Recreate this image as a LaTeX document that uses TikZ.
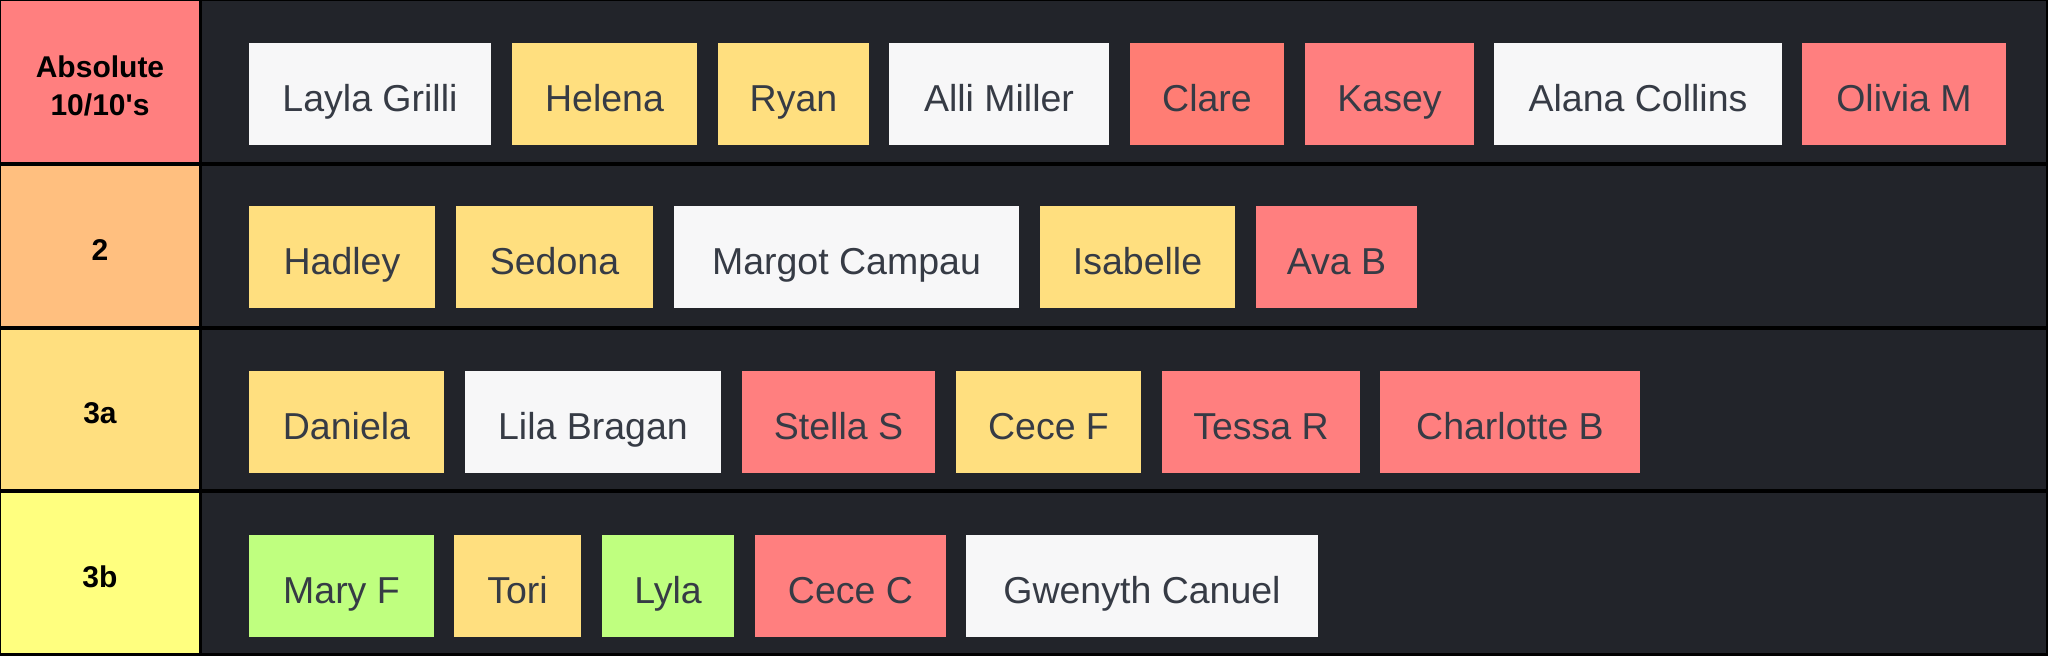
\documentclass[tikz,border=0pt]{standalone}
\usepackage{fontspec}
\setmainfont{Liberation Sans}
\definecolor{tierone}{HTML}{FF7F7F}
\definecolor{tiertwo}{HTML}{FFBF7F}
\definecolor{tierthree}{HTML}{FFDF7F}
\definecolor{tierfour}{HTML}{FFFF7F}
\definecolor{rowbg}{HTML}{22242A}
\definecolor{namegray}{HTML}{363B45}
\definecolor{tilewhite}{HTML}{F7F7F8}
\definecolor{tileyellow}{HTML}{FFDF7F}
\definecolor{tilered}{HTML}{FF7F7F}
\definecolor{tileclare}{HTML}{FF7D74}
\definecolor{tilegreen}{HTML}{BFFF7F}

\begin{document}
\begin{tikzpicture}[x=1pt,y=-1pt,
  tierlabel/.style={inner sep=0pt,minimum width=198pt},
  tiertext/.style={inner sep=0pt,align=center,text=black,yshift=-4pt,font=\bfseries\fontsize{30}{38}\selectfont},
  tile/.style={inner sep=0pt,minimum height=102pt,text=namegray,font=\fontsize{37.5}{40}\selectfont,text height=35pt,text depth=0pt}]
                \useasboundingbox (0,0) rectangle (2048,656);
                \fill [black] (0,0) rectangle (2048,656);
                \fill [rowbg] (202,1) rectangle (2046,162);
                \fill [rowbg] (202,166) rectangle (2046,326);
                \fill [rowbg] (202,330) rectangle (2046,489);
                \fill [rowbg] (202,493) rectangle (2046,653);

                \node[tierlabel,fill=tierone,minimum height=161pt,label={[tiertext]center:{Absolute\\10/10\textquotesingle s}}] (absolute) at (100,81.5) {};
                \node[tierlabel,fill=tiertwo,minimum height=160pt,label={[tiertext]center:2}] (two) at (100,246) {};
                \node[tierlabel,fill=tierthree,minimum height=159pt,label={[tiertext]center:3a}] (threea) at (100,409.5) {};
                \node[tierlabel,fill=tierfour,minimum height=160pt,label={[tiertext]center:3b}] (threeb) at (100,573) {};

                \node[tile,fill=tilewhite,minimum width=242pt] (laylagrilli) at (370,94) {Layla Grilli};
                \node[tile,fill=tileyellow,minimum width=185pt] (helena) at (604.5,94) {Helena};
                \node[tile,fill=tileyellow,minimum width=151pt] (ryan) at (793.5,94) {Ryan};
                \node[tile,fill=tilewhite,minimum width=220pt] (allimiller) at (999,94) {Alli Miller};
                \node[tile,fill=tileclare,minimum width=154pt] (clare) at (1207,94) {Clare};
                \node[tile,fill=tilered,minimum width=169pt] (kasey) at (1389.5,94) {Kasey};
                \node[tile,fill=tilewhite,minimum width=288pt] (alanacollins) at (1638,94) {Alana Collins};
                \node[tile,fill=tilered,minimum width=204pt] (oliviam) at (1904,94) {Olivia M};

                \node[tile,fill=tileyellow,minimum width=186pt] (hadley) at (342,257) {Hadley};
                \node[tile,fill=tileyellow,minimum width=197pt] (sedona) at (554.5,257) {Sedona};
                \node[tile,fill=tilewhite,minimum width=345pt] (margot) at (846.5,257) {Margot Campau};
                \node[tile,fill=tileyellow,minimum width=195pt] (isabelle) at (1137.5,257) {Isabelle};
                \node[tile,fill=tilered,minimum width=161pt] (avab) at (1336.5,257) {Ava B};

                \node[tile,fill=tileyellow,minimum width=195pt] (daniela) at (346.5,421.5) {Daniela};
                \node[tile,fill=tilewhite,minimum width=256pt] (lilabragan) at (593,421.5) {Lila Bragan};
                \node[tile,fill=tilered,minimum width=193pt] (stellas) at (838.5,421.5) {Stella S};
                \node[tile,fill=tileyellow,minimum width=185pt] (cecef) at (1048.5,421.5) {Cece F};
                \node[tile,fill=tilered,minimum width=198pt] (tessar) at (1261,421.5) {Tessa R};
                \node[tile,fill=tilered,minimum width=260pt] (charlotteb) at (1510,421.5) {Charlotte B};

                \node[tile,fill=tilegreen,minimum width=185pt] (maryf) at (341.5,586) {Mary F};
                \node[tile,fill=tileyellow,minimum width=127pt] (tori) at (517.5,586) {Tori};
                \node[tile,fill=tilegreen,minimum width=132pt] (lyla) at (668,586) {Lyla};
                \node[tile,fill=tilered,minimum width=191pt] (cecec) at (850.5,586) {Cece C};
                \node[tile,fill=tilewhite,minimum width=352pt] (gwenyth) at (1142,586) {Gwenyth Canuel};
            \end{tikzpicture}
\end{document}
